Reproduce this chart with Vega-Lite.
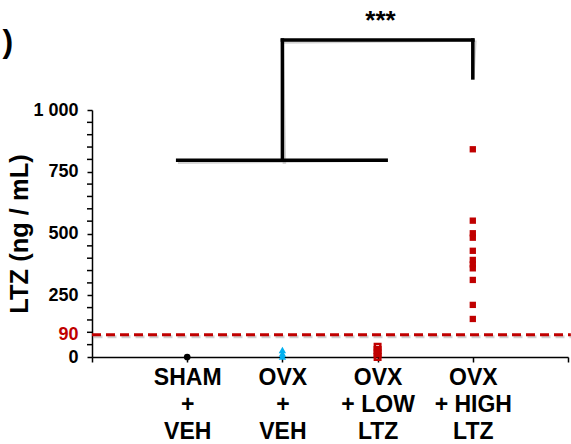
{
  "$schema": "https://vega.github.io/schema/vega-lite/v6.json",
  "autosize": "none",
  "width": 476,
  "height": 247,
  "padding": {"left": 92, "top": 110, "right": 3, "bottom": 87},
  "background": "white",
  "config": {
    "view": {"stroke": null},
    "font": "Liberation Sans",
    "axis": {"grid": false, "domainColor": "black", "tickColor": "black", "labelColor": "black", "titleColor": "black", "labelOverlap": false, "labelFlush": false}
  },
  "datasets": {
    "points": [
      {"group": "SHAM + VEH", "pos": 1, "ltz": 0},
      {"group": "OVX + VEH", "pos": 2, "ltz": 28},
      {"group": "OVX + VEH", "pos": 2, "ltz": 14},
      {"group": "OVX + VEH", "pos": 2, "ltz": 2},
      {"group": "OVX + LOW LTZ", "pos": 3, "ltz": 42},
      {"group": "OVX + LOW LTZ", "pos": 3, "ltz": 28},
      {"group": "OVX + LOW LTZ", "pos": 3, "ltz": 14},
      {"group": "OVX + LOW LTZ", "pos": 3, "ltz": 0},
      {"group": "OVX + HIGH LTZ", "pos": 4, "ltz": 841},
      {"group": "OVX + HIGH LTZ", "pos": 4, "ltz": 552},
      {"group": "OVX + HIGH LTZ", "pos": 4, "ltz": 501},
      {"group": "OVX + HIGH LTZ", "pos": 4, "ltz": 483},
      {"group": "OVX + HIGH LTZ", "pos": 4, "ltz": 430},
      {"group": "OVX + HIGH LTZ", "pos": 4, "ltz": 393},
      {"group": "OVX + HIGH LTZ", "pos": 4, "ltz": 375},
      {"group": "OVX + HIGH LTZ", "pos": 4, "ltz": 359},
      {"group": "OVX + HIGH LTZ", "pos": 4, "ltz": 312},
      {"group": "OVX + HIGH LTZ", "pos": 4, "ltz": 211},
      {"group": "OVX + HIGH LTZ", "pos": 4, "ltz": 154}
    ],
    "minorTicks": [
      {"ltz": 50}, {"ltz": 100}, {"ltz": 150}, {"ltz": 200},
      {"ltz": 300}, {"ltz": 350}, {"ltz": 400}, {"ltz": 450},
      {"ltz": 550}, {"ltz": 600}, {"ltz": 650}, {"ltz": 700},
      {"ltz": 800}, {"ltz": 850}, {"ltz": 900}, {"ltz": 950}
    ],
    "bracket": [
      {"xa": 0.9, "xb": 3.09, "ya": 797, "yb": 797},
      {"xa": 2, "xb": 2, "ya": 797, "yb": 1283},
      {"xa": 2, "xb": 4, "ya": 1283, "yb": 1283},
      {"xa": 4, "xb": 4, "ya": 1283, "yb": 1130}
    ],
    "threshold": [{"xa": 0, "xb": 5.03, "ltz": 90}],
    "stars": [{"pos": 3.03, "ltz": 1360, "note": "***"}],
    "panel": [{"pos": -0.885, "ltz": 1277, "note": ")"}]
  },
  "layer": [
    {
      "data": {"name": "threshold"},
      "mark": {"type": "rule", "color": "#7f7f7f", "opacity": 0.35, "strokeWidth": 3, "strokeDash": [9, 5], "xOffset": 1.5, "yOffset": 2},
      "encoding": {
        "x": {"field": "xa", "type": "quantitative", "scale": {"domain": [0, 5], "nice": false, "zero": false},
          "axis": {
            "values": [0, 1, 2, 3, 4, 5],
            "title": null,
            "domainWidth": 1.5,
            "tickWidth": 1.5,
            "tickSize": 5,
            "labelFont": "Liberation Sans",
            "labelFontWeight": "bold",
            "labelFontSize": 23,
            "labelLineHeight": 27,
            "labelPadding": 4,
            "labelBaseline": "top",
            "labelExpr": "datum.value == 1 ? ['SHAM', '+', 'VEH'] : datum.value == 2 ? ['OVX', '+', 'VEH'] : datum.value == 3 ? ['OVX', '+ LOW', 'LTZ'] : datum.value == 4 ? ['OVX', '+ HIGH', 'LTZ'] : ''"
          }
        },
        "x2": {"field": "xb"},
        "y": {"field": "ltz", "type": "quantitative", "scale": {"domain": [0, 1000], "nice": false},
          "axis": {
            "values": [0, 90, 250, 500, 750, 1000],
            "title": "LTZ (ng / mL)",
            "titleFont": "Liberation Sans",
            "titleFontWeight": "bold",
            "titleFontSize": 25.5,
            "titlePadding": 0,
            "domainWidth": 1.5,
            "tickWidth": 1.5,
            "tickSize": 5,
            "tickOpacity": {"expr": "datum.value == 90 ? 0 : 1"},
            "labelFont": "Liberation Sans",
            "labelFontWeight": "bold",
            "labelFontSize": 18,
            "labelPadding": 9,
            "labelColor": {"expr": "datum.value == 90 ? '#C00000' : 'black'"},
            "labelExpr": "datum.value == 1000 ? '1 000' : '' + datum.value"
          }
        }
      }
    },
    {
      "data": {"name": "threshold"},
      "mark": {"type": "rule", "color": "#C00000", "strokeWidth": 3, "strokeDash": [9, 5]},
      "encoding": {
        "x": {"field": "xa", "type": "quantitative"},
        "x2": {"field": "xb"},
        "y": {"field": "ltz", "type": "quantitative"}
      }
    },
    {
      "data": {"name": "minorTicks"},
      "mark": {"type": "tick", "orient": "horizontal", "color": "black", "size": 5, "thickness": 1.5, "xOffset": -2.5, "opacity": 1},
      "encoding": {
        "x": {"datum": 0, "type": "quantitative"},
        "y": {"field": "ltz", "type": "quantitative"}
      }
    },
    {
      "data": {"name": "bracket"},
      "mark": {"type": "rule", "color": "#7f7f7f", "opacity": 0.35, "strokeWidth": 3.5, "strokeCap": "square", "xOffset": 2, "yOffset": 2},
      "encoding": {
        "x": {"field": "xa", "type": "quantitative"},
        "x2": {"field": "xb"},
        "y": {"field": "ya", "type": "quantitative"},
        "y2": {"field": "yb"}
      }
    },
    {
      "data": {"name": "bracket"},
      "mark": {"type": "rule", "color": "black", "strokeWidth": 3.5, "strokeCap": "square"},
      "encoding": {
        "x": {"field": "xa", "type": "quantitative"},
        "x2": {"field": "xb"},
        "y": {"field": "ya", "type": "quantitative"},
        "y2": {"field": "yb"}
      }
    },
    {
      "data": {"name": "points"},
      "transform": [{"filter": "datum.pos == 1"}],
      "mark": {"type": "point", "shape": "circle", "filled": true, "color": "black", "size": 45, "opacity": 1},
      "encoding": {"x": {"field": "pos", "type": "quantitative"}, "y": {"field": "ltz", "type": "quantitative"}}
    },
    {
      "data": {"name": "points"},
      "transform": [{"filter": "datum.pos == 2"}],
      "mark": {"type": "point", "shape": "triangle-up", "filled": true, "color": "#00B0F0", "size": 55, "opacity": 1},
      "encoding": {"x": {"field": "pos", "type": "quantitative"}, "y": {"field": "ltz", "type": "quantitative"}}
    },
    {
      "data": {"name": "points"},
      "transform": [{"filter": "datum.pos == 3"}],
      "mark": {"type": "point", "shape": "square", "filled": false, "color": "#C00000", "strokeWidth": 2.5, "size": 30, "opacity": 1},
      "encoding": {"x": {"field": "pos", "type": "quantitative"}, "y": {"field": "ltz", "type": "quantitative"}}
    },
    {
      "data": {"name": "points"},
      "transform": [{"filter": "datum.pos == 4"}],
      "mark": {"type": "point", "shape": "square", "filled": true, "color": "#C00000", "size": 40, "opacity": 1},
      "encoding": {"x": {"field": "pos", "type": "quantitative"}, "y": {"field": "ltz", "type": "quantitative"}}
    },
    {
      "data": {"name": "stars"},
      "mark": {"type": "text", "font": "Liberation Sans", "fontWeight": "bold", "fontSize": 26, "color": "black", "baseline": "middle", "align": "center"},
      "encoding": {
        "x": {"field": "pos", "type": "quantitative"},
        "y": {"field": "ltz", "type": "quantitative"},
        "text": {"field": "note"}
      }
    },
    {
      "data": {"name": "panel"},
      "mark": {"type": "text", "font": "Liberation Sans", "fontWeight": "bold", "fontSize": 32, "color": "black", "baseline": "middle", "align": "center"},
      "encoding": {
        "x": {"field": "pos", "type": "quantitative"},
        "y": {"field": "ltz", "type": "quantitative"},
        "text": {"field": "note"}
      }
    }
  ]
}
